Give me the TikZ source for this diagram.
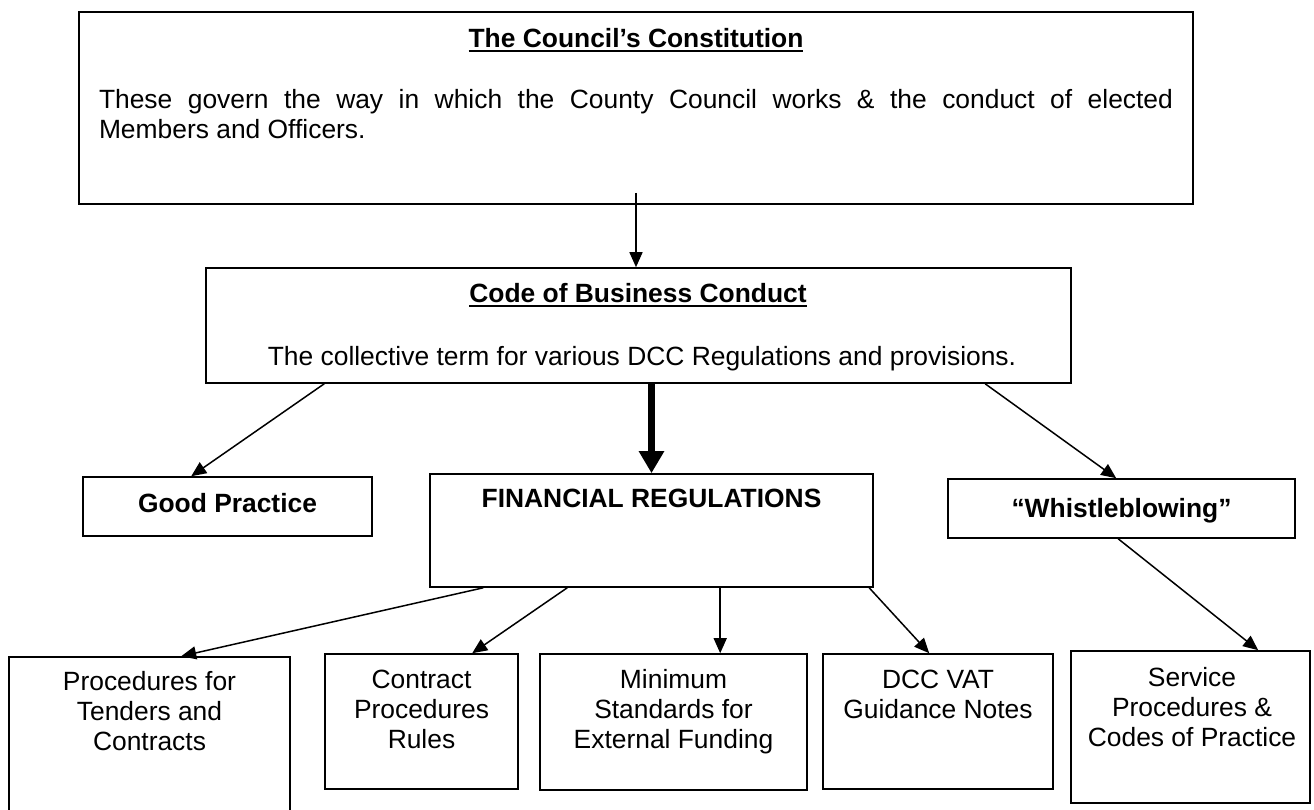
\documentclass[tikz,border=0pt]{standalone}
\usepackage{fontspec}
\setmainfont{Liberation Sans}
\usetikzlibrary{arrows.meta,calc}

\newcommand{\undl}[1]{\setbox0\hbox{#1}\rlap{\rule[-5pt]{\wd0}{1.8pt}}\box0}

\begin{document}
\begin{tikzpicture}[x=1pt,y=-1pt,
      every node/.style={font=\fontsize{26.4}{30}\selectfont},
      box/.style={rectangle,draw,line width=1.6pt,inner sep=0pt},
      txt/.style={anchor=base,align=center,inner sep=0pt},
      link/.style={line width=1.5pt,-{Triangle[length=15pt,width=13pt]}},
      mainlink/.style={line width=7pt,-{Triangle[length=22pt,width=24pt]}}]
      \useasboundingbox (0,0) rectangle (1314,809);
      \clip (0,0) rectangle (1314,809);
      % Boxes
      \node[box,minimum width=1114pt,minimum height=192pt] (const) at (636,108) {};
      \node[box,minimum width=865pt,minimum height=115pt] (code) at (638.5,325.5) {};
      \node[box,minimum width=289pt,minimum height=59pt] (good) at (227.5,506.5) {};
      \node[box,minimum width=443pt,minimum height=113pt] (fin) at (651.5,530.5) {};
      \node[box,minimum width=347pt,minimum height=59pt] (whistle) at (1121.5,508.5) {};
      \node[box,minimum width=281pt,minimum height=160pt] (tenders) at (149.5,737) {};
      \node[box,minimum width=193pt,minimum height=135pt] (contract) at (421.5,721.5) {};
      \node[box,minimum width=267pt,minimum height=136pt] (minstd) at (673.5,722) {};
      \node[box,minimum width=230pt,minimum height=135pt] (vat) at (938,721.5) {};
      \node[box,minimum width=239pt,minimum height=152pt] (service) at (1190.5,727) {};
      % Texts (base of a multi-line text is its last line)
      \node[txt] (constTitle) at (636,47) {\textbf{\undl{The Council's Constitution}}};
      \node[txt,text width=1074pt,align=justify] (constBody) at (636,108)
        {These govern the way in which the County Council works \& the conduct of elected\linebreak Members and Officers.};
      \node[txt] (codeTitle) at (638,302) {\textbf{\undl{Code of Business Conduct}}};
      \node[txt] (codeBody) at (642,365) {The collective term for various DCC Regulations and provisions.};
      \node[txt] (goodText) at (227.5,512) {\textbf{Good Practice}};
      \node[txt] (finText) at (651.5,507) {\textbf{FINANCIAL REGULATIONS}};
      \node[txt] (whistleText) at (1121.5,517) {\textbf{“Whistleblowing”}};
      \node[txt] (tendersText) at (149.5,750) {Procedures for\\Tenders and\\Contracts};
      \node[txt] (contractText) at (421.5,748) {Contract\\Procedures\\Rules};
      \node[txt] (minstdText) at (673.5,748) {Minimum\\Standards for\\External Funding};
      \node[txt] (vatText) at (938,718) {DCC VAT\\Guidance Notes};
      \node[txt] (serviceText) at (1192,746) {Service\\Procedures \&\\Codes of Practice};
      % Connectors
      \draw[link] ($(const.south)+(0,-12)$) -- (const.south |- code.north);
      \draw[mainlink] (fin.north |- code.south) -- (fin.north);
      \draw[link] ($(code.south west)+(119,0)$) -- ($(good.north west)+(109,0)$);
      \draw[link] ($(code.south west)+(780,0)$) -- ($(whistle.north west)+(169,0)$);
      \draw[link] ($(fin.south west)+(54,0)$) -- ($(tenders.north west)+(173,0)$);
      \draw[link] ($(fin.south west)+(138,0)$) -- ($(contract.north west)+(148,0)$);
      \draw[link] ($(fin.south west)+(291,0)$) -- ($(minstd.north west)+(181,0)$);
      \draw[link] ($(fin.south west)+(440,0)$) -- ($(vat.north west)+(107,0)$);
      \draw[link] ($(whistle.south west)+(171,0)$) -- ($(service.north west)+(188,0)$);
\end{tikzpicture}
\end{document}
